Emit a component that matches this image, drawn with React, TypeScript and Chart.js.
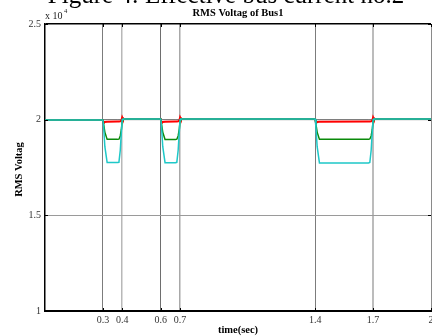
import { useEffect, useRef } from 'react';
import { Chart, registerables } from 'chart.js';

Chart.register(...registerables);

// time (sec)
const times = [
  0,
  0.3, 0.304, 0.31, 0.322, 0.376, 0.383, 0.39, 0.396, 0.4, 0.404,
  0.6, 0.604, 0.61, 0.622, 0.676, 0.683, 0.69, 0.696, 0.7, 0.704,
  1.4, 1.404, 1.41, 1.422, 1.676, 1.683, 1.69, 1.696, 1.7, 1.704,
  2,
];

// RMS voltage (x 10^4)
const cyanRms = [
  1.998,
  1.998, 1.96, 1.86, 1.776, 1.776, 1.777, 1.84, 1.94, 2.0, 2.003,
  2.003, 1.96, 1.86, 1.775, 1.775, 1.777, 1.84, 1.94, 2.0, 2.003,
  2.003, 1.96, 1.86, 1.774, 1.774, 1.776, 1.84, 1.94, 2.0, 2.003,
  2.003,
];
const greenRms = [
  1.998,
  1.998, 1.975, 1.935, 1.897, 1.897, 1.898, 1.915, 1.95, 1.995, 2.003,
  2.003, 1.975, 1.935, 1.896, 1.896, 1.898, 1.915, 1.952, 1.996, 2.003,
  2.003, 1.975, 1.935, 1.897, 1.897, 1.899, 1.915, 1.95, 1.995, 2.003,
  2.003,
];
const redRms = [
  1.998,
  1.998, 1.982, 1.988, 1.989, 1.99, 1.99, 1.991, 1.996, 2.012, 2.003,
  2.003, 1.982, 1.988, 1.989, 1.99, 1.99, 1.991, 1.996, 2.012, 2.003,
  2.003, 1.982, 1.988, 1.989, 1.99, 1.99, 1.991, 1.996, 2.012, 2.003,
  2.003,
];
const grayRms = [
  2.0,
  2.0, 2.0, 2.0, 2.0, 2.0, 2.0, 2.0, 2.0, 2.0, 2.0,
  2.0, 2.0, 2.0, 2.0, 2.0, 2.0, 2.0, 2.0, 2.0, 2.0,
  2.0, 2.0, 2.0, 2.0, 2.0, 2.0, 2.0, 2.0, 2.0, 2.0,
  2.0,
];

const xTickValues = [0.3, 0.4, 0.6, 0.7, 1.4, 1.7, 2];
const xTickLabels = ['0.3', '0.4', '0.6', '0.7', '1.4', '1.7', '2'];
const yTickValues = [1, 1.5, 2, 2.5];
const yTickLabels = ['1', '1.5', '2', '2.5'];

const xGridColors = ['#7c7c7c', '#b8b8b8', '#6e6e6e', '#a8a8a8', '#7c7c7c', '#bcbcbc', '#8a8a8a'];
const xGridWidths = [1, 1.5, 1, 1.5, 1, 2, 1];

const FONT = '"Liberation Serif", "Times New Roman", serif';

const toPoints = (ys: number[]) => times.map((t, i) => ({ x: t, y: ys[i] }));

const textPlugin = {
  id: 'matlabText',
  afterDraw(chart: any) {
    const { ctx, chartArea } = chart;
    const { left, right, top, bottom } = chartArea;
    ctx.save();
    // inward tick marks
    ctx.strokeStyle = '#000';
    ctx.lineWidth = 1;
    const xs = chart.scales.x;
    const ys = chart.scales.y;
    xTickValues.forEach((v) => {
      const px = Math.round(xs.getPixelForValue(v)) + 0.5;
      ctx.beginPath();
      ctx.moveTo(px, bottom);
      ctx.lineTo(px, bottom - 3);
      ctx.moveTo(px, top);
      ctx.lineTo(px, top + 3);
      ctx.stroke();
    });
    yTickValues.forEach((v) => {
      const py = Math.round(ys.getPixelForValue(v)) + 0.5;
      ctx.beginPath();
      ctx.moveTo(left, py);
      ctx.lineTo(left + 3, py);
      ctx.moveTo(right, py);
      ctx.lineTo(right - 3, py);
      ctx.stroke();
    });

    ctx.fillStyle = '#000';
    // big (cut-off) figure caption
    ctx.font = `25px ${FONT}`;
    ctx.textAlign = 'center';
    ctx.textBaseline = 'alphabetic';
    ctx.fillText('Figure 4: Effective bus current no.2', 226, 3);

    // chart title
    ctx.font = `bold 10.5px ${FONT}`;
    ctx.fillText('RMS Voltag of Bus1', (left + right) / 2, 16);

    // exponent
    ctx.textAlign = 'left';
    ctx.font = `10px ${FONT}`;
    ctx.fillStyle = '#222';
    ctx.fillText('x 10', 45, 19);
    ctx.font = `6.5px ${FONT}`;
    ctx.fillText('4', 64, 13);

    // x axis title
    ctx.fillStyle = '#000';
    ctx.font = `bold 10.5px ${FONT}`;
    ctx.textAlign = 'center';
    ctx.textBaseline = 'middle';
    ctx.fillText('time(sec)', (left + right) / 2, 330);

    // y axis title
    ctx.translate(19, (top + bottom) / 2 + 2);
    ctx.rotate(-Math.PI / 2);
    ctx.fillText('RMS Voltag', 0, 0);
    ctx.restore();
  },
};

export default function App() {
  const ref = useRef<HTMLCanvasElement | null>(null);

  useEffect(() => {
    if (!ref.current) return;
    const chart = new Chart(ref.current, {
      type: 'line',
      data: {
        datasets: [
          {
            label: 'cyan',
            data: toPoints(cyanRms),
            borderColor: '#1ec8c8',
            borderWidth: 1.5,
            pointRadius: 0,
            tension: 0,
          },
          {
            label: 'green',
            data: toPoints(greenRms),
            borderColor: '#0a8a0a',
            borderWidth: 1.5,
            pointRadius: 0,
            tension: 0,
          },
          {
            label: 'red',
            data: toPoints(redRms),
            borderColor: '#ff0000',
            borderWidth: 2,
            pointRadius: 0,
            tension: 0,
          },
          {
            label: 'gray',
            data: toPoints(grayRms),
            borderColor: '#7a7a7a',
            borderWidth: 1,
            pointRadius: 0,
            tension: 0,
          },
        ],
      },
      options: {
        animation: false,
        responsive: false,
        devicePixelRatio: 1,
        layout: { padding: { top: 24, right: 1, left: 0, bottom: 0 } },
        plugins: {
          legend: { display: false },
          title: { display: false },
          tooltip: { enabled: false },
        },
        scales: {
          x: {
            type: 'linear',
            min: 0,
            max: 2,
            afterBuildTicks: (s: any) => {
              s.ticks = xTickValues.map((v) => ({ value: v }));
            },
            afterFit: (s: any) => {
              s.height = 25;
              s.paddingLeft = 0;
              s.paddingRight = 0;
            },
            ticks: {
              autoSkip: false,
              maxRotation: 0,
              padding: 3,
              color: '#333',
              font: { family: FONT, size: 10 },
              callback: (v: any) => {
                const i = xTickValues.indexOf(Number(v));
                return i >= 0 ? xTickLabels[i] : '';
              },
            },
            grid: {
              drawTicks: false,
              color: (c: any) => xGridColors[c.index] ?? '#888',
              lineWidth: (c: any) => xGridWidths[c.index] ?? 1,
            },
            border: { color: '#000', width: 2 },
          },
          y: {
            type: 'linear',
            min: 1,
            max: 2.5,
            afterBuildTicks: (s: any) => {
              s.ticks = yTickValues.map((v) => ({ value: v }));
            },
            afterFit: (s: any) => {
              s.width = 45;
              s.paddingTop = 0;
              s.paddingBottom = 0;
            },
            ticks: {
              padding: 4,
              color: '#333',
              font: { family: FONT, size: 10 },
              callback: (v: any) => {
                const i = yTickValues.indexOf(Number(v));
                return i >= 0 ? yTickLabels[i] : '';
              },
            },
            grid: {
              drawTicks: false,
              color: (c: any) => (c.tick && c.tick.value === 2.5 ? '#000' : '#9a9a9a'),
              lineWidth: (c: any) => (c.tick && c.tick.value === 2.5 ? 1.5 : 1),
            },
            border: { color: '#000', width: 1.5 },
          },
        },
      },
      plugins: [textPlugin],
    });
    return () => chart.destroy();
  }, []);

  return (
    <div style={{ position: 'absolute', left: 0, top: 0, width: 432, height: 336, background: '#fff' }}>
      <canvas ref={ref} width={432} height={336} style={{ display: 'block' }} />
    </div>
  );
}
